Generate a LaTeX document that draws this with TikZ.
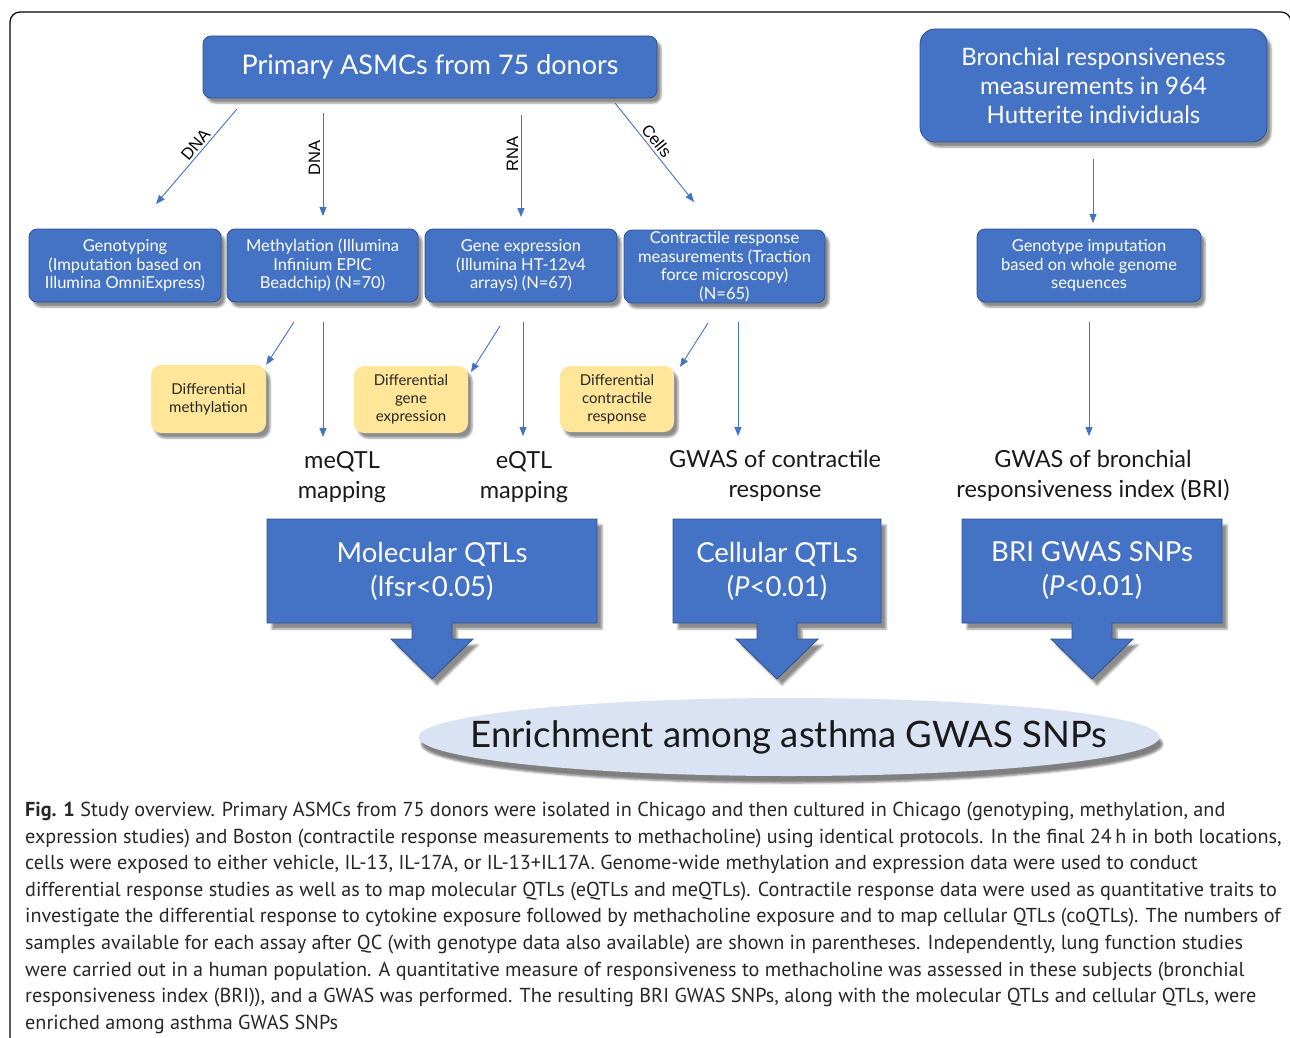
\documentclass[tikz,border=0pt]{standalone}
\usepackage{fontspec}
\setmainfont{Lato}
\newfontfamily\capfont{PT Sans}
\newfontfamily\lblfont{Liberation Sans}
\usetikzlibrary{arrows.meta,shadows.blur,shapes.geometric}

\definecolor{boxblue}{HTML}{4472C4}
\definecolor{boxline}{HTML}{2F528F}
\definecolor{noteyellow}{HTML}{FFE699}
\definecolor{ellfill}{HTML}{DAE3F3}
\newcommand{\fsz}[2]{\fontsize{#1}{#2}\selectfont}

\begin{document}
\begin{tikzpicture}[x=1pt,y=-1pt,
  bluebox/.style={rounded corners=8pt,draw=boxline,line width=0.8pt,fill=boxblue,text=white,align=center,inner sep=2pt,
    blur shadow={shadow xshift=4pt,shadow yshift=-5pt,shadow opacity=45}},
  stepbox/.style={bluebox,minimum height=73pt,font=\fsz{16.5}{18.5}},
  notebox/.style={rounded corners=10pt,fill=noteyellow,text=black!85,align=center,inner sep=2pt,font=\fsz{15}{18},
    blur shadow={shadow xshift=4pt,shadow yshift=-5pt,shadow opacity=45}},
  maplabel/.style={align=center,font=\fsz{23.5}{30},text=black!90},
  qtlshape/.style={draw=boxline,line width=0.8pt,fill=boxblue,
    blur shadow={shadow xshift=5pt,shadow yshift=-6pt,shadow opacity=45}},
  qtltext/.style={align=center,text=white,font=\fsz{27.5}{34}},
  link/.style={draw=boxblue,line width=0.9pt,-{Triangle[length=9pt,width=7pt]}},
  linklabel/.style={font=\lblfont\fsz{16.5}{18},anchor=south,inner sep=2.5pt}]
\useasboundingbox (0,0) rectangle (1290,1038);

% frame
\draw[line width=1.2pt,rounded corners=10pt] (10,1050) -- (10,12) -- (1291,12) -- (1291,1050);

% top row
\node[bluebox,minimum width=454pt,minimum height=62pt,font=\fsz{27}{32}] (asmc) at (430,67) {Primary ASMCs from 75 donors};
\node[bluebox,rounded corners=15pt,minimum width=347pt,minimum height=113pt,font=\fsz{24}{29}] (bronch) at (1093.5,85.5)
  {Bronchial responsiveness\\measurements in 964\\Hutterite individuals};

% assays
\node[stepbox,minimum width=192pt] (geno) at (125,265.5) {Genotyping\\(Imputation based on\\Illumina OmniExpress)};
\node[stepbox,minimum width=191pt] (meth) at (322.5,265.5) {Methylation (Illumina\\Infinium EPIC\\Beadchip) (N=70)};
\node[stepbox,minimum width=192pt] (gexp) at (521,265.5) {Gene expression\\(Illumina HT-12v4\\arrays) (N=67)};
\node[stepbox,minimum width=201pt,inner sep=0pt] (contr) at (724.5,266.5) {Contractile response\\measurements (Traction\\force microscopy)\\(N=65)};
\node[stepbox,minimum width=224pt] (imput) at (1089,265.5) {Genotype imputation\\based on whole genome\\sequences};

% differential analyses
\node[notebox,minimum width=115pt,minimum height=68pt] (dmeth) at (208.5,399) {Differential\\methylation};
\node[notebox,minimum width=114pt,minimum height=67pt] (dgexp) at (411,399.5) {Differential\\gene\\expression};
\node[notebox,minimum width=114pt,minimum height=66pt] (dcontr) at (617,399) {Differential\\contractile\\response};

% mapping
\node[maplabel] (meqtl) at (342,477) {meQTL\\mapping};
\node[maplabel] (eqtl) at (524,477) {eQTL\\mapping};
\node[maplabel] (gwasc) at (775,476) {GWAS of contractile\\response};
\node[maplabel] (gwasb) at (1093,476) {GWAS of bronchial\\responsiveness index (BRI)};

% connector ends
\coordinate (d1a) at (237,109);  \coordinate (d1b) at (156,204);
\coordinate (d2a) at (323,113);  \coordinate (d2b) at (323,216);
\coordinate (r1a) at (521,115);  \coordinate (r1b) at (521,217);
\coordinate (c1a) at (615,103);  \coordinate (c1b) at (694,202);
\coordinate (b1a) at (1093,159); \coordinate (b1b) at (1093,223);
\coordinate (m1a) at (294,322);  \coordinate (m2a) at (323,322); \coordinate (m2b) at (323,437);
\coordinate (e1a) at (500,326);  \coordinate (e1b) at (471,372);
\coordinate (e2a) at (523,322);  \coordinate (e2b) at (523,436);
\coordinate (k1a) at (708,323);  \coordinate (k1b) at (680,367);
\coordinate (k2a) at (738,322);  \coordinate (k2b) at (738,436);
\coordinate (g1a) at (1089,322); \coordinate (g1b) at (1089,436);

\draw[link] (d1a) -- node[linklabel,pos=0.43,rotate=50] {DNA} (d1b);
\draw[link] (d2a) -- node[linklabel,pos=0.44,rotate=90] {DNA} (d2b);
\draw[link] (r1a) -- node[linklabel,pos=0.38,rotate=90] {RNA} (r1b);
\draw[link] (c1a) -- node[linklabel,pos=0.44,rotate=-51] {Cells} (c1b);
\draw[link] (b1a) -- (b1b);
\draw[link] (m1a) -- (dmeth.north east);
\draw[link] (m2a) -- (m2b);
\draw[link] (e1a) -- (e1b);
\draw[link] (e2a) -- (e2b);
\draw[link] (k1a) -- (k1b);
\draw[link] (k2a) -- (k2b);
\draw[link] (g1a) -- (g1b);

% QTL arrows
\draw[qtlshape] (267,519) -- (597,519) -- (597,623) -- (452,623) -- (452,639) -- (473,639) -- (432,679)
  -- (391,639) -- (412,639) -- (412,623) -- (267,623) -- cycle;
\node[qtltext] (molqtl) at (432,571) {Molecular QTLs\\(lfsr<0.05)};
\draw[qtlshape] (673,519) -- (881,519) -- (881,623) -- (797,623) -- (797,639) -- (818,639) -- (777,679)
  -- (736,639) -- (757,639) -- (757,623) -- (673,623) -- cycle;
\node[qtltext] (cellqtl) at (777,571) {Cellular QTLs\\(\textit{P}<0.01)};
\draw[qtlshape] (962,519) -- (1222,519) -- (1222,623) -- (1112,623) -- (1112,639) -- (1133,639) -- (1092,679)
  -- (1051,639) -- (1072,639) -- (1072,623) -- (962,623) -- cycle;
\node[qtltext] (brisnp) at (1092,571) {BRI GWAS SNPs\\(\textit{P}<0.01)};

% enrichment
\node[ellipse,fill=ellfill,minimum width=741pt,minimum height=78pt,inner sep=0pt,
  blur shadow={shadow xshift=3pt,shadow yshift=-7pt,shadow opacity=50}] (enrich) at (789,737) {};
\node[font=\fsz{36.5}{40},text=black!90] (enrichtext) at (enrich.center) {Enrichment among asthma GWAS SNPs};

% caption
\node[anchor=north west,align=left,inner sep=0pt,font=\capfont\fsz{20.2}{26.6},text=black!85] (caption) at (25,802)
  {\textbf{Fig. 1} Study overview. Primary ASMCs from 75 donors were isolated in Chicago and then cultured in Chicago (genotyping, methylation, and\\
   expression studies) and Boston (contractile response measurements to methacholine) using identical protocols. In the final 24\,h in both locations,\\
   cells were exposed to either vehicle, IL-13, IL-17A, or IL-13+IL17A. Genome-wide methylation and expression data were used to conduct\\
   differential response studies as well as to map molecular QTLs (eQTLs and meQTLs). Contractile response data were used as quantitative traits to\\
   investigate the differential response to cytokine exposure followed by methacholine exposure and to map cellular QTLs (coQTLs). The numbers of\\
   samples available for each assay after QC (with genotype data also available) are shown in parentheses. Independently, lung function studies\\
   were carried out in a human population. A quantitative measure of responsiveness to methacholine was assessed in these subjects (bronchial\\
   responsiveness index (BRI)), and a GWAS was performed. The resulting BRI GWAS SNPs, along with the molecular QTLs and cellular QTLs, were\\
   enriched among asthma GWAS SNPs};
\end{tikzpicture}
\end{document}
